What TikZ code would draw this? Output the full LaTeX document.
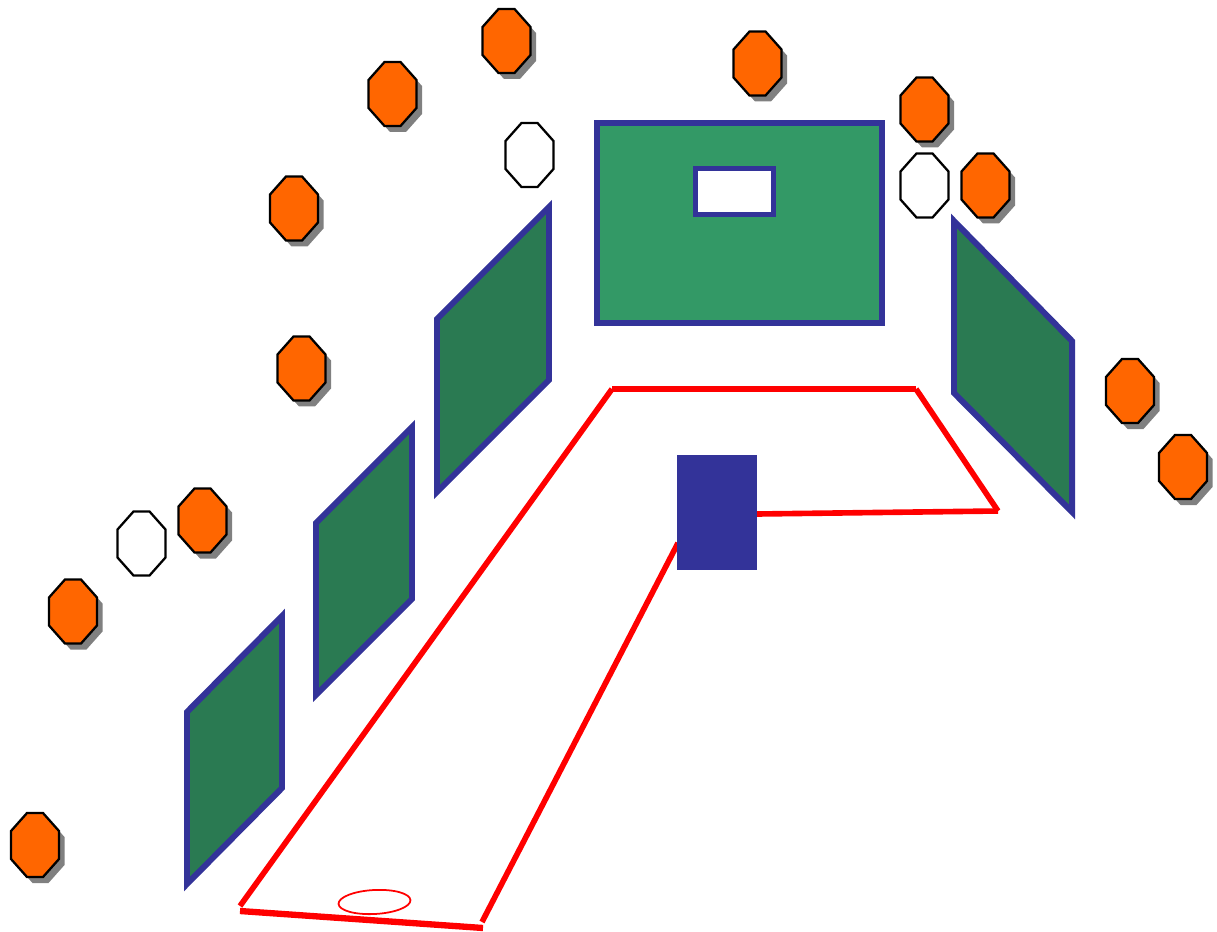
\documentclass[tikz,border=0pt]{standalone}
\definecolor{hallblue}{RGB}{51,51,153}
\definecolor{screengreen}{RGB}{51,153,102}
\definecolor{panelgreen}{RGB}{42,122,82}
\definecolor{seatorange}{RGB}{255,102,0}
\definecolor{seatshadow}{RGB}{128,128,128}
\usepackage{tikz}
\begin{document}
\begin{tikzpicture}[x=0.02cm, y=-0.02cm,
  panel/.style={draw=hallblue, line width=3.4pt, fill=panelgreen, miter limit=10},
  redline/.style={draw=red, line width=3.2pt},
  seatface/.pic={
    \draw[black, line width=1.3pt, fill=#1] (-8,-32) -- (8,-32) -- (24,-14) -- (24,14)
      -- (8,32) -- (-8,32) -- (-24,14) -- (-24,-14) -- cycle;
  },
  seatback/.pic={
    \fill[seatshadow] (-8,-32) -- (8,-32) -- (24,-14) -- (24,14)
      -- (8,32) -- (-8,32) -- (-24,14) -- (-24,-14) -- cycle;
  }]
\useasboundingbox (0,0) rectangle (1217,932);

% Main screen
\draw[draw=hallblue, line width=3.4pt, fill=screengreen] (597,123) rectangle (882,323);
\draw[draw=hallblue, line width=3.2pt, fill=white] (695.5,168.5) rectangle (773.5,214.5);

% Side panels
\draw[panel] (437,319) -- (549,207) -- (549,380) -- (437,492) -- cycle;
\draw[panel] (316,523) -- (412,427) -- (412,599) -- (316,695) -- cycle;
\draw[panel] (187,712) -- (282,616) -- (282,788) -- (187,884) -- cycle;
\draw[panel] (954,221) -- (1072,341) -- (1072,512) -- (954,393) -- cycle;

% Floor outline
\coordinate (backl) at (612,389);
\coordinate (backr) at (916,389);
\coordinate (sider) at (998,511);
\coordinate (deskr) at (757,514);
\coordinate (deskl) at (678,543);
\coordinate (frontl) at (240,906);
\coordinate (frontr) at (482,922);
\draw[redline] (backl) -- (backr);
\draw[redline] (backr) -- (sider);
\draw[redline] (sider) -- (deskr);
\draw[redline] (deskl) -- (frontr);
\draw[redline] (backl) -- (frontl);
\draw[draw=red, line width=3.6pt] (240,911) -- (483,928);
\draw[draw=red, line width=1pt] (374.5,902) ellipse [x radius=36, y radius=12, rotate=3];

% Desk
\node[fill=hallblue, inner sep=0pt, minimum width=1.6cm, minimum height=2.3cm] (desk) at (717,512.5) {};

% Occupied seats
\foreach \px/\py in {506.5/41, 392.5/94, 294/208.5, 301.5/368.5, 757.5/63.5, 924.5/109.5, 985.5/185.5,
    1130/391, 1183/467, 202.5/520.5, 73/611.5, 35/845} {
  \pic at (\px+5.5,\py+6) {seatback};
  \pic at (\px,\py) {seatface=seatorange};
}

% Empty seats
\foreach \px/\py in {529.5/155, 924.5/185.5, 141.5/543.5} {
  \pic at (\px,\py) {seatface=white};
}

\end{tikzpicture}
\end{document}
